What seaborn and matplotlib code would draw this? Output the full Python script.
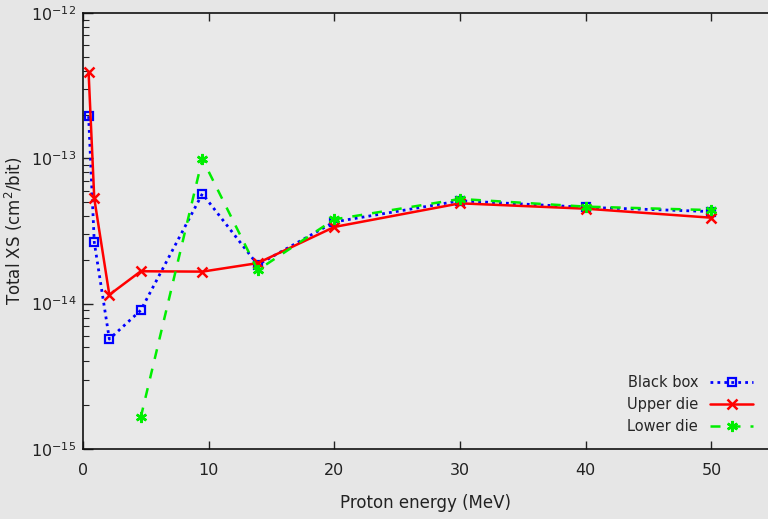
import numpy as np
import pandas as pd
import matplotlib
matplotlib.use("Agg")
import matplotlib.pyplot as plt
import seaborn as sns
from matplotlib.ticker import NullFormatter, FixedLocator, LogFormatterSciNotation

# Data
bb_x = [0.45, 0.9, 2.1, 4.6, 9.5, 13.9, 20, 30, 40, 50]
bb_y = [1.95e-13, 2.65e-14, 5.7e-15, 9.0e-15, 5.7e-14, 1.85e-14, 3.65e-14, 5.1e-14, 4.6e-14, 4.3e-14]

ud_x = [0.45, 0.9, 2.1, 4.6, 9.5, 13.9, 20, 30, 40, 50]
ud_y = [3.9e-13, 5.3e-14, 1.15e-14, 1.67e-14, 1.66e-14, 1.9e-14, 3.37e-14, 4.9e-14, 4.5e-14, 3.9e-14]

ld_x = [4.6, 9.5, 13.9, 20, 30, 40, 50]
ld_y = [1.65e-15, 9.9e-14, 1.7e-14, 3.8e-14, 5.25e-14, 4.65e-14, 4.4e-14]

labels = ["Black box", "Upper die", "Lower die"]
xticks = [0, 10, 20, 30, 40, 50]
yticks = [1e-15, 1e-14, 1e-13, 1e-12]

sns.set_theme(style="ticks")
plt.rcParams['font.family'] = ['DejaVu Sans']

fig = plt.figure(figsize=(7.68, 5.19), dpi=100, facecolor="#e6e6e6")
ax = fig.add_axes([0.108, 0.135, 0.892, 0.84])
ax.set_facecolor("#e9e9e9")

df_bb = pd.DataFrame({"x": bb_x, "y": bb_y})
df_ud = pd.DataFrame({"x": ud_x, "y": ud_y})
df_ld = pd.DataFrame({"x": ld_x, "y": ld_y})

sns.lineplot(data=df_bb, x="x", y="y", ax=ax, color="#0000ff", linestyle=(0, (1, 1.5)),
             lw=2, marker="s", markersize=6, markerfacecolor="none", markeredgewidth=1.6,
             markeredgecolor="#0000ff", label=labels[0])
sns.lineplot(data=df_ud, x="x", y="y", ax=ax, color="#ff0000", linestyle="-",
             lw=1.8, marker="x", markersize=7, markeredgewidth=1.8,
             markeredgecolor="#ff0000", label=labels[1])
sns.lineplot(data=df_ld, x="x", y="y", ax=ax, color="#00ee00", linestyle=(0, (4, 4)),
             lw=1.8, marker=(6, 2, 0), markersize=8, markeredgewidth=1.8,
             markeredgecolor="#00ee00", label=labels[2])

ax.set_yscale("log")
ax.set_ylim(1e-15, 1e-12)
ax.set_xlim(0, 54.5)
ax.xaxis.set_major_locator(FixedLocator(xticks))
ax.yaxis.set_major_locator(FixedLocator(yticks))
ax.yaxis.set_major_formatter(LogFormatterSciNotation())
minor = [m * d for d in [1e-15, 1e-14, 1e-13] for m in range(2, 10)]
ax.yaxis.set_minor_locator(FixedLocator(minor))
ax.yaxis.set_minor_formatter(NullFormatter())

ax.tick_params(axis="both", which="both", direction="in", top=True, right=False,
               labelsize=11.5, colors="#222222")
ax.tick_params(axis="y", which="major", length=7, width=1, pad=5)
ax.tick_params(axis="y", which="minor", length=4, width=0.8)
ax.tick_params(axis="x", which="major", length=6, width=1, pad=10)
ax.spines["right"].set_visible(False)
for s in ["left", "bottom", "top"]:
    ax.spines[s].set_color("#111111")
    ax.spines[s].set_linewidth(1.2)

ax.set_xlabel("Proton energy (MeV)", fontsize=12, color="#222222", labelpad=12)
ax.set_ylabel("Total XS (cm$^2$/bit)", fontsize=12, color="#222222", labelpad=4)

leg = ax.legend(loc="lower right", frameon=False, markerfirst=False, fontsize=10.5,
                handlelength=3, bbox_to_anchor=(1.0, 0.0), borderaxespad=0.6)

fig.savefig("out.png", dpi=100, facecolor=fig.get_facecolor())
